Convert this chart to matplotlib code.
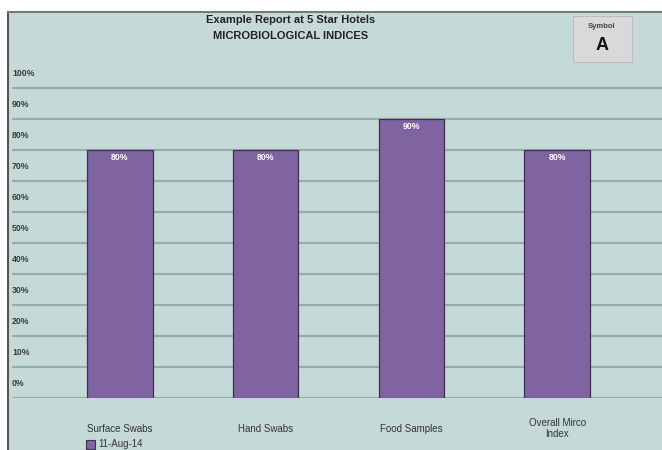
import numpy as np
import matplotlib.pyplot as plt
from matplotlib.patches import Rectangle

plt.rcParams['font.family'] = ['Liberation Sans', 'DejaVu Sans']

# chart data
categories = ['Surface Swabs', 'Hand Swabs', 'Food Samples', 'Overall Mirco\nIndex']
values = [80, 80, 90, 80]
series_name = '11-Aug-14'
yticks = [0, 10, 20, 30, 40, 50, 60, 70, 80, 90, 100]

W, H = 662, 450
bg = '#c6d9d9'
bar_col = '#8064a2'
grid_col = '#9aabab'


def px(x, y):
	# pixel coords (top-left origin) to figure fraction
	return x / W, 1 - y / H


fig = plt.figure(figsize=(W / 100, H / 100), dpi=100)
fig.patch.set_facecolor('white')

# panel background with dark left/top border
fig.patches.append(Rectangle(px(8, 450), (W - 8) / W, (450 - 12) / H, transform=fig.transFigure,
	facecolor=bg, edgecolor='none', zorder=-2))
fig.lines.append(plt.Line2D([8 / W, 8 / W], [0, 1 - 12 / H], transform=fig.transFigure, color='#555555', lw=1.5))
fig.lines.append(plt.Line2D([8 / W, 1], [1 - 12 / H, 1 - 12 / H], transform=fig.transFigure, color='#777777', lw=1.5))

ax = fig.add_axes([12 / W, (450 - 398) / H, (W - 12) / W, (398 - 60) / H])
ax.set_zorder(2)
ax.set_facecolor('none')
x = np.arange(len(categories))
ax.set_xlim(-0.741, 3.72)
ax.set_ylim(0, 109)

for v in yticks:
	ax.axhline(v, color=grid_col, lw=1.6, zorder=1)
	ax.text(-0.741, v + 4.7, '%d%%' % v, fontsize=6.3, fontweight='bold', color='#3a3a3a',
		ha='left', va='center')

ax.bar(x, values, width=0.45, color=bar_col, edgecolor='#3d3050', linewidth=0.9, zorder=3)
for xi, v in zip(x, values):
	ax.text(xi, v - 2.6, '%d%%' % v, fontsize=6.3, fontweight='bold', color='white',
		ha='center', va='center', zorder=4)

for xi, c in zip(x, categories):
	ax.text(xi, -9.9, c, fontsize=7, color='#333333', ha='center', va='center',
		linespacing=1.1, clip_on=False)

ax.set_xticks([])
ax.set_yticks([])
for s in ax.spines.values():
	s.set_visible(False)

# title
fig.text(*px(291, 20), 'Example Report at 5 Star Hotels', fontsize=8, fontweight='bold',
	ha='center', va='center', color='#222222')
fig.text(*px(291, 36), 'MICROBIOLOGICAL INDICES', fontsize=8, fontweight='bold',
	ha='center', va='center', color='#222222')

# symbol box
fig.patches.append(Rectangle(px(573, 62), 59 / W, 46 / H, transform=fig.transFigure,
	facecolor='#d9d9d9', edgecolor='#bcbcbc', lw=0.8, zorder=1))
fig.text(*px(602, 27), 'Symbol', fontsize=5.5, fontweight='bold', ha='center', va='center', color='#444444')
fig.text(*px(602, 46), 'A', fontsize=13, fontweight='bold', ha='center', va='center', color='#111111')

# legend
fig.patches.append(Rectangle(px(86, 449), 9 / W, 9 / H, transform=fig.transFigure,
	facecolor=bar_col, edgecolor='#3d3050', lw=0.8))
fig.text(*px(98, 444), series_name, fontsize=7, ha='left', va='center', color='#333333')

plt.savefig('out.png', dpi=100, facecolor=fig.get_facecolor())
